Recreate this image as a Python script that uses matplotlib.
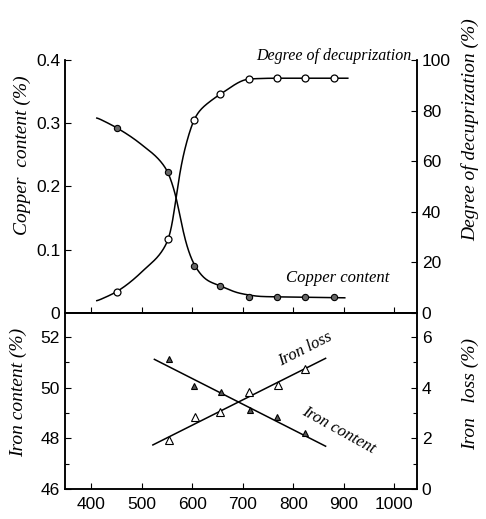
import numpy as np
import matplotlib
matplotlib.use("Agg")
import matplotlib.pyplot as plt

plt.rcParams['font.family'] = ['Liberation Sans', 'DejaVu Sans']

# --- top panel data (temperature, deg C) ---
temp_top = [450, 552, 604, 655, 713, 767, 824, 881]
copper = [0.293, 0.223, 0.075, 0.043, 0.026, 0.026, 0.025, 0.025]
decup = [8.4, 29.4, 76.3, 86.4, 92.6, 92.8, 92.8, 92.8]

# hand drawn guide curves
copper_curve_x = [411, 450, 500, 551, 560, 568, 576, 586, 604, 629, 655, 695, 740, 824, 902]
copper_curve_y = [0.309, 0.293, 0.266, 0.2245, 0.205, 0.184, 0.152, 0.115, 0.076,
                  0.052, 0.043, 0.031, 0.026, 0.025, 0.024]
decup_curve_x = [411, 450, 504, 554, 563, 568, 573, 580, 590, 603, 613, 639, 655, 713, 767, 824, 908]
decup_curve_y = [4.7, 8.4, 17.0, 29.5, 38.1, 46.0, 52.6, 60.5, 68.4, 76.3, 79.6, 84.2, 86.4,
                 92.5, 92.8, 92.8, 92.8]

# --- bottom panel data ---
temp_content = [553, 603, 656, 714, 767, 824]
iron_content = [51.12, 50.08, 49.84, 49.12, 48.83, 48.23]
temp_loss = [553, 605, 654, 713, 770, 824]
iron_loss = [1.92, 2.84, 3.06, 3.85, 4.11, 4.72]
content_line_x = [525, 864]
content_line_y = [51.12, 47.69]
loss_line_x = [522, 864]
loss_line_y = [1.74, 5.16]

xticks = [400, 500, 600, 700, 800, 900, 1000]


def pchip(x, y, xs):
    # monotone cubic through the guide points
    x = np.asarray(x, float)
    y = np.asarray(y, float)
    h = np.diff(x)
    d = np.diff(y) / h
    n = len(x)
    m = np.zeros(n)
    m[0], m[-1] = d[0], d[-1]
    for k in range(1, n - 1):
        if d[k - 1] * d[k] > 0:
            w1 = 2 * h[k] + h[k - 1]
            w2 = h[k] + 2 * h[k - 1]
            m[k] = (w1 + w2) / (w1 / d[k - 1] + w2 / d[k])
    idx = np.clip(np.searchsorted(x, xs) - 1, 0, n - 2)
    t = (xs - x[idx]) / h[idx]
    h00 = 2 * t**3 - 3 * t**2 + 1
    h10 = t**3 - 2 * t**2 + t
    h01 = -2 * t**3 + 3 * t**2
    h11 = t**3 - t**2
    return (h00 * y[idx] + h10 * h[idx] * m[idx] +
            h01 * y[idx + 1] + h11 * h[idx] * m[idx + 1])


def smooth_curve(x, y, n=600, sigma=5.0):
    # pchip then a light gaussian blur so the line looks hand drawn
    xs = np.linspace(x[0], x[-1], n)
    ys = pchip(x, y, xs)
    step = xs[1] - xs[0]
    k = np.arange(-int(3 * sigma / step), int(3 * sigma / step) + 1) * step
    w = np.exp(-0.5 * (k / sigma) ** 2)
    w /= w.sum()
    pad = len(k) // 2
    yp = np.concatenate([np.full(pad, ys[0]), ys, np.full(pad, ys[-1])])
    return xs, np.convolve(yp, w, mode='valid')


W, H = 486, 519
fig = plt.figure(figsize=(W / 100, H / 100), dpi=100)

def fx(px):
    return px / W

def fy(py):
    return 1 - py / H

left, right = 65, 417
ax1 = fig.add_axes([fx(left), fy(313), fx(right) - fx(left), fy(60) - fy(313)])
ax2 = fig.add_axes([fx(left), fy(489), fx(right) - fx(left), fy(313) - fy(489)])
ax1r = ax1.twinx()
ax2r = ax2.twinx()

lw = 1.1
tick_kw = dict(direction='in', length=4, width=0.8, labelsize=12.5)

# top
xs, ys = smooth_curve(copper_curve_x, copper_curve_y)
ax1.plot(xs, ys, color='black', lw=lw)
ax1.plot(temp_top, copper, 'o', ms=4.5, mfc='#666666', mec='black', mew=0.8)
xs2, ys2 = smooth_curve(decup_curve_x, decup_curve_y)
ax1r.plot(xs2, ys2, color='black', lw=lw)
ax1r.plot(temp_top, decup, 'o', ms=5, mfc='white', mec='black', mew=0.9)

ax1.set_xlim(348, 1045)
ax1.set_ylim(0, 0.4)
ax1r.set_ylim(0, 100)
ax1.set_xticks(xticks)
ax1.set_xticklabels([])
ax1.set_yticks([0, 0.1, 0.2, 0.3, 0.4])
ax1.set_yticklabels(['0', '0.1', '0.2', '0.3', '0.4'])
ax1r.set_yticks([0, 20, 40, 60, 80, 100])
ax1.tick_params(**tick_kw)
ax1r.tick_params(**tick_kw)
for a in (ax1, ax1r):
    a.spines['top'].set_visible(False)

# bottom
ax2.plot(content_line_x, content_line_y, color='black', lw=lw)
ax2.plot(temp_content, iron_content, '^', ms=5, mfc='#555555', mec='black', mew=0.8)
ax2r.plot(loss_line_x, loss_line_y, color='black', lw=lw)
ax2r.plot(temp_loss, iron_loss, '^', ms=5.5, mfc='white', mec='black', mew=0.8)

ax2.set_xlim(348, 1045)
ax2.set_ylim(46, 52.95)
ax2r.set_ylim(0, 6.95)
ax2.set_xticks(xticks)
ax2.set_xticklabels([str(v) for v in xticks])
ax2.set_yticks([46, 48, 50, 52])
ax2.set_yticks([47, 49, 51], minor=True)
ax2r.set_yticks([0, 2, 4, 6])
ax2r.set_yticks([1, 3, 5], minor=True)
ax2.tick_params(**tick_kw)
ax2r.tick_params(**tick_kw)
ax2.tick_params(axis='x', pad=6)
for a in (ax2, ax2r):
    a.tick_params(which='minor', direction='in', length=3, width=0.8)

for a in (ax1, ax1r, ax2, ax2r):
    for s in a.spines.values():
        s.set_linewidth(1.1)

lab = dict(style='italic', family=['Liberation Serif', 'DejaVu Serif'])
fig.text(fx(22), fy(155), 'Copper  content (%)', rotation=90, ha='center', va='center',
         fontsize=14, **lab)
fig.text(fx(470), fy(130), 'Degree of decuprization (%)', rotation=90, ha='center', va='center',
         fontsize=14, **lab)
fig.text(fx(18), fy(392), 'Iron content (%)', rotation=90, ha='center', va='center',
         fontsize=14, **lab)
fig.text(fx(470), fy(394), 'Iron   loss (%)', rotation=90, ha='center', va='center',
         fontsize=14, **lab)

fig.text(fx(334), fy(56), 'Degree of decuprization', ha='center', va='center', fontsize=11.5, **lab)
fig.text(fx(338), fy(278), 'Copper content', ha='center', va='center', fontsize=12, **lab)
fig.text(fx(305), fy(349), 'Iron loss', rotation=27, ha='center', va='center', fontsize=12, **lab)
fig.text(fx(339), fy(430), 'Iron content', rotation=-29, ha='center', va='center', fontsize=12, **lab)

fig.savefig('out.png', dpi=100)
